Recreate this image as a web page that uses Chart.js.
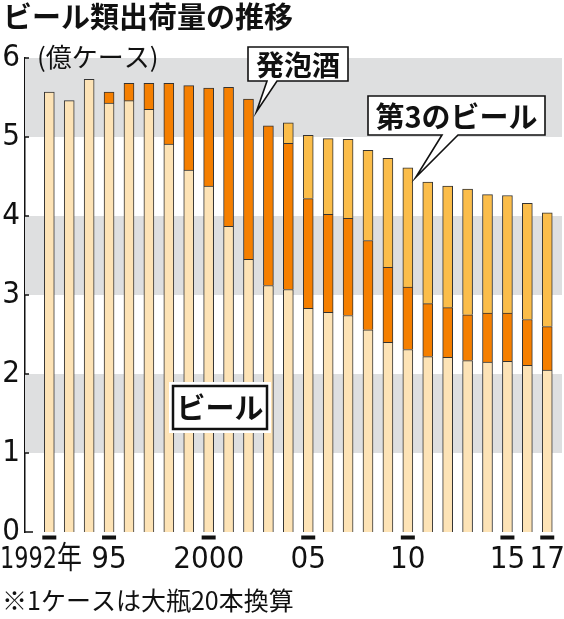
<!DOCTYPE html>
<html>
<head>
<meta charset="utf-8">
<script src="https://cdn.jsdelivr.net/npm/chart.js@4.4.1/dist/chart.umd.min.js"></script>
<style>
  html, body { margin: 0; padding: 0; background: #fff; }
</style>
</head>
<body>
<canvas id="beerChart" width="564" height="619"></canvas>
<script>
// shipments, 100 million cases (1 case = 20 large bottles)
const years = [1992, 1993, 1994, 1995, 1996, 1997, 1998, 1999, 2000, 2001, 2002, 2003, 2004,
  2005, 2006, 2007, 2008, 2009, 2010, 2011, 2012, 2013, 2014, 2015, 2016, 2017];
const beer = [5.57, 5.46, 5.73, 5.43, 5.46, 5.35, 4.91, 4.58, 4.38, 3.87, 3.45, 3.12, 3.07,
  2.83, 2.78, 2.74, 2.56, 2.40, 2.31, 2.22, 2.21, 2.17, 2.15, 2.16, 2.11, 2.05];
const happoshu = [null, null, null, 0.14, 0.22, 0.33, 0.77, 1.07, 1.24, 1.76, 2.03, 2.02, 1.85,
  1.39, 1.24, 1.23, 1.13, 0.95, 0.79, 0.67, 0.63, 0.58, 0.62, 0.61, 0.58, 0.55];
const thirdBeer = [null, null, null, null, null, null, null, null, null, null, null, null, 0.26,
  0.80, 0.96, 1.00, 1.14, 1.38, 1.51, 1.54, 1.54, 1.59, 1.50, 1.49, 1.47, 1.44];

const markedYears = [1992, 1995, 2000, 2005, 2010, 2015, 2017];
const markedLabels = ["1992年", "95", "2000", "05", "10", "15", "17"];
const grayBands = [[1, 2], [3, 4], [5, 6]];

const numFont = '"Liberation Sans Narrow", "DejaVu Sans Condensed", "Noto Sans CJK JP", sans-serif';
const jpFont = '"Noto Sans CJK JP", sans-serif';

// speech-bubble style label: box with a tail ending at tip
function callout(ctx, box, baseL, baseR, tip, text, size) {
  ctx.save();
  ctx.beginPath();
  ctx.moveTo(box.x0, box.y0);
  ctx.lineTo(box.x1, box.y0);
  ctx.lineTo(box.x1, box.y1);
  ctx.lineTo(baseR, box.y1);
  ctx.lineTo(tip.x, tip.y);
  ctx.lineTo(baseL, box.y1);
  ctx.lineTo(box.x0, box.y1);
  ctx.closePath();
  ctx.fillStyle = "#fff";
  ctx.fill();
  ctx.lineWidth = 1.6;
  ctx.strokeStyle = "#111";
  ctx.stroke();
  ctx.fillStyle = "#111";
  ctx.font = `bold ${size}px ${jpFont}`;
  ctx.textAlign = "center";
  ctx.textBaseline = "middle";
  ctx.fillText(text, (box.x0 + box.x1) / 2, (box.y0 + box.y1) / 2 + 1);
  ctx.restore();
}

const decor = {
  id: "decor",
  beforeDatasetsDraw(chart) {
    const { ctx, chartArea, scales } = chart;
    ctx.save();
    ctx.fillStyle = "#dedfe0";
    grayBands.forEach(([lo, hi]) => {
      const top = scales.y.getPixelForValue(hi);
      const bot = scales.y.getPixelForValue(lo);
      ctx.fillRect(chartArea.left, top, chartArea.right - chartArea.left, bot - top);
    });
    ctx.restore();
  },
  afterDatasetsDraw(chart) {
    const { ctx, chartArea, scales } = chart;
    const x = scales.x, y = scales.y;
    ctx.save();

    // short inner ticks on the value axis
    ctx.strokeStyle = "#111";
    ctx.lineWidth = 1.5;
    for (let v = 0; v <= 6; v++) {
      const py = y.getPixelForValue(v);
      ctx.beginPath();
      ctx.moveTo(chartArea.left, py);
      ctx.lineTo(chartArea.left + (v === 0 ? 8 : 4), py);
      ctx.stroke();
    }

    // black dashes and labels under marked years
    ctx.fillStyle = "#111";
    ctx.font = `31px ${numFont}`;
    ctx.textBaseline = "alphabetic";
    markedYears.forEach((yr, i) => {
      const px = x.getPixelForValue(yr);
      ctx.fillRect(px - 7, chartArea.bottom + 3.5, 14, 4);
      if (i === 0) {
        // first label sits against the left edge, squeezed like the print
        ctx.textAlign = "left";
        ctx.fillText(markedLabels[i], 0, chartArea.bottom + 36, 82);
      } else {
        ctx.textAlign = "center";
        ctx.fillText(markedLabels[i], px, chartArea.bottom + 36);
      }
    });

    // title, unit and note
    ctx.textAlign = "left";
    ctx.textBaseline = "middle";
    ctx.font = `bold 29px ${jpFont}`;
    ctx.fillText("ビール類出荷量の推移", 3, 17);
    ctx.font = `26px ${jpFont}`;
    ctx.fillText("(億ケース)", 37, 57);
    ctx.font = `25px ${jpFont}`;
    ctx.fillText("※1ケースは大瓶20本換算", 2, 600);

    // callouts
    callout(ctx, { x0: 248, y0: 47, x1: 348, y1: 81 }, 267, 277,
      { x: x.getPixelForValue(2002.4), y: y.getPixelForValue(5.32) }, "発泡酒", 28);
    callout(ctx, { x0: 368, y0: 96, x1: 545, y1: 135 }, 442, 458,
      { x: x.getPixelForValue(2010.4), y: y.getPixelForValue(4.49) }, "第3のビール", 29);

    // boxed label for beer
    ctx.fillStyle = "#fff";
    ctx.fillRect(169, 382, 102, 51);
    ctx.strokeStyle = "#111";
    ctx.lineWidth = 2.5;
    ctx.strokeRect(173, 386, 94, 43);
    ctx.fillStyle = "#111";
    ctx.font = `bold 29px ${jpFont}`;
    ctx.textAlign = "center";
    ctx.fillText("ビール", 220, 408);
    ctx.restore();
  }
};

const ctx = document.getElementById("beerChart").getContext("2d");
new Chart(ctx, {
  type: "bar",
  data: {
    labels: years,
    datasets: [
      { label: "ビール", data: beer, backgroundColor: "#fde3b6" },
      { label: "発泡酒", data: happoshu, backgroundColor: "#f57f00" },
      { label: "第3のビール", data: thirdBeer, backgroundColor: "#fbbd4a" },
    ].map((d) => ({ ...d, borderColor: "#333", borderWidth: 1, barThickness: 10 })),
  },
  options: {
    responsive: false,
    animation: false,
    layout: { padding: { top: 58, right: 2, left: 0, bottom: 0 } },
    plugins: { legend: { display: false }, tooltip: { enabled: false } },
    scales: {
      x: {
        type: "linear",
        stacked: true,
        offset: false,
        min: 1990.78,
        max: 2017.74,
        grid: { display: false, drawTicks: false },
        border: { display: false },
        ticks: { display: false },
        afterFit: (s) => { s.height = 87; },
      },
      y: {
        stacked: true,
        min: 0,
        max: 6,
        grid: { display: false, drawTicks: false },
        border: { display: true, color: "#111", width: 1.5 },
        ticks: {
          stepSize: 1,
          padding: 5,
          color: "#111",
          font: { family: numFont, size: 31 },
        },
        afterFit: (s) => { s.width = 25; },
      },
    },
  },
  plugins: [decor],
});
</script>
</body>
</html>
